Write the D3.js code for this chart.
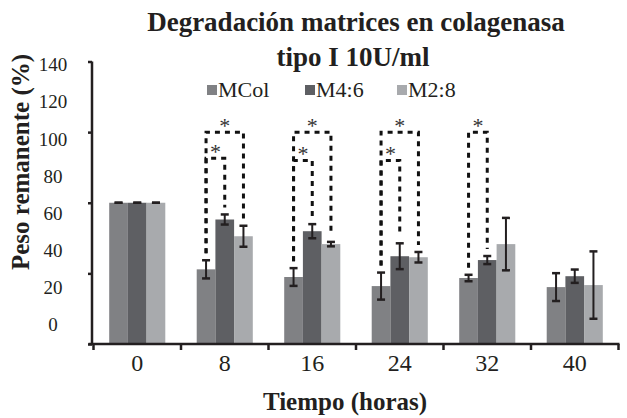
<!DOCTYPE html>
<html>
<head>
<meta charset="utf-8">
<script src="https://cdn.jsdelivr.net/npm/d3@7"></script>
<style>
  body { margin: 0; background: #fff; }
  text { font-family: "Liberation Serif", "Times New Roman", serif; fill: #231f20; }
</style>
</head>
<body>
<div id="chart"></div>
<script>
// data (y domain 0-140 matches the tick marks)
const times = ['0', '8', '16', '24', '32', '40'];
const series = ['MCol', 'M4:6', 'M2:8'];
const mcol = [70, 37, 33.2, 28.7, 32.7, 28.2];
const mcolErr = [0, 4.5, 4.4, 6.7, 1.6, 6.9];
const m46 = [70, 61.7, 55.9, 43.5, 41.6, 33.6];
const m46Err = [0, 2.5, 3.5, 6.4, 2, 3.3];
const m28 = [70, 53.4, 49.5, 43, 49.5, 29.2];
const m28Err = [0, 5.2, 1.1, 2.6, 13, 16.7];
const yTicks = [0, 35, 70, 105, 140];
const yTickLabels = [0, 20, 40, 60, 80, 100, 120, 140];
// significance brackets: time, from series, to series, level (% units)
const brackets = [
    {time: '8', a: 'MCol', b: 'M4:6', level: 92},
    {time: '8', a: 'MCol', b: 'M2:8', level: 105},
    {time: '16', a: 'MCol', b: 'M4:6', level: 91},
    {time: '16', a: 'MCol', b: 'M2:8', level: 105},
    {time: '24', a: 'MCol', b: 'M4:6', level: 91},
    {time: '24', a: 'MCol', b: 'M2:8', level: 105},
    {time: '32', a: 'MCol', b: 'M4:6', level: 105}
];

const colors = {'MCol': '#808184', 'M4:6': '#5e5f63', 'M2:8': '#a8aaad'};
const values = {'MCol': mcol, 'M4:6': m46, 'M2:8': m28};
const errors = {'MCol': mcolErr, 'M4:6': m46Err, 'M2:8': m28Err};

const width = 627;
const height = 418;
const dark = '#231f20';

const svg = d3.select('#chart').append('svg')
    .attr('width', width)
    .attr('height', height);

const x0 = d3.scaleBand().domain(times).range([93.5, 618.5]);
const x1 = d3.scaleBand().domain(series).range([0, x0.bandwidth()]).paddingOuter(0.84);
const y = d3.scaleLinear().domain([0, 140]).range([344, 61.5]);
// the printed labels sit on their own spacing, not on the tick marks
const yLab = d3.scaleLinear().domain([0, 140]).range([325, 65]);

const rows = [];
times.forEach((t, i) => {
    series.forEach(s => {
        rows.push({time: t, series: s, value: values[s][i], err: errors[s][i]});
    });
});

// bars
svg.append('g').selectAll('rect')
    .data(rows)
    .enter().append('rect')
    .attr('x', d => x0(d.time) + x1(d.series))
    .attr('y', d => y(d.value))
    .attr('width', x1.bandwidth())
    .attr('height', d => y(0) - y(d.value))
    .attr('fill', d => colors[d.series]);

// error bars
const eb = svg.append('g').attr('stroke', dark).attr('stroke-width', 2);
rows.forEach(d => {
    const cx = x0(d.time) + x1(d.series) + x1.bandwidth() / 2;
    const top = y(d.value + d.err);
    const bot = y(d.value - d.err);
    if (d.err > 0) {
        eb.append('line').attr('x1', cx).attr('x2', cx).attr('y1', top).attr('y2', bot);
    }
    eb.append('line').attr('x1', cx - 4).attr('x2', cx + 4).attr('y1', top).attr('y2', top).attr('stroke-width', 2.5);
    eb.append('line').attr('x1', cx - 4).attr('x2', cx + 4).attr('y1', bot).attr('y2', bot).attr('stroke-width', 2.5);
});

// significance brackets
function barCenter(t, s) {
    return x0(t) + x1(s) + x1.bandwidth() / 2;
}
function legBottom(t, s) {
    const i = times.indexOf(t);
    return y(values[s][i] + errors[s][i]) - 7;
}
const br = svg.append('g');
brackets.forEach(b => {
    const xa = barCenter(b.time, b.a);
    const xb = barCenter(b.time, b.b);
    const ly = y(b.level);
    br.append('path')
        .attr('d', `M${xa},${legBottom(b.time, b.a)}V${ly}H${xb}V${legBottom(b.time, b.b)}`)
        .attr('fill', 'none')
        .attr('stroke', '#111')
        .attr('stroke-width', 3)
        .attr('stroke-dasharray', '5,5');
    br.append('text')
        .attr('x', (xa + xb) / 2)
        .attr('y', ly + 1)
        .attr('text-anchor', 'middle')
        .style('font-size', '22px')
        .style('fill', '#333')
        .text('*');
});

// y axis: line + tick marks
const yAxis = svg.append('g')
    .attr('transform', `translate(${x0.range()[0] - 1.5},0)`)
    .call(d3.axisLeft(y).tickValues(yTicks).tickSize(4).tickFormat(''));
yAxis.select('.domain').attr('stroke', dark).attr('stroke-width', 2.5).attr('d', `M0,${y(140)}V${y(0)}`);
yAxis.selectAll('.tick line').attr('stroke', dark).attr('stroke-width', 2.5);

svg.append('g').selectAll('text')
    .data(yTickLabels)
    .enter().append('text')
    .attr('x', 53)
    .attr('y', d => yLab(d))
    .attr('dy', '0.33em')
    .attr('text-anchor', 'middle')
    .style('font-size', '19px')
    .text(d => d);

// x axis: line, ticks between groups, labels
const xAxis = svg.append('g').attr('transform', `translate(0,${y(0)})`);
xAxis.append('line')
    .attr('x1', x0.range()[0] - 5).attr('x2', x0.range()[1] + 1)
    .attr('stroke', dark).attr('stroke-width', 2.5);
xAxis.selectAll('.xt')
    .data(times.map(t => x0(t)).concat([x0.range()[1]]))
    .enter().append('line')
    .attr('x1', d => d).attr('x2', d => d)
    .attr('y1', 0).attr('y2', 6)
    .attr('stroke', dark).attr('stroke-width', 2.5);
xAxis.selectAll('.xl')
    .data(times)
    .enter().append('text')
    .attr('x', d => x0(d) + x0.bandwidth() / 2)
    .attr('y', 27)
    .attr('text-anchor', 'middle')
    .style('font-size', '24px')
    .text(d => d);

// titles
svg.append('text')
    .attr('x', 356).attr('y', 31)
    .attr('text-anchor', 'middle')
    .style('font-size', '27px').style('font-weight', 'bold')
    .text('Degradación matrices en colagenasa');
svg.append('text')
    .attr('x', 353).attr('y', 66)
    .attr('text-anchor', 'middle')
    .style('font-size', '27px').style('font-weight', 'bold')
    .text('tipo I 10U/ml');
svg.append('text')
    .attr('x', 345).attr('y', 410)
    .attr('text-anchor', 'middle')
    .style('font-size', '25px').style('font-weight', 'bold')
    .text('Tiempo (horas)');
svg.append('text')
    .attr('transform', 'translate(29,162) rotate(-90)')
    .attr('text-anchor', 'middle')
    .style('font-size', '25px').style('font-weight', 'bold')
    .text('Peso remanente (%)');

// legend
const legendX = [207, 305, 397];
const legend = svg.append('g').selectAll('g')
    .data(series)
    .enter().append('g')
    .attr('transform', (d, i) => `translate(${legendX[i]},85)`);
legend.append('rect')
    .attr('width', 10).attr('height', 10)
    .attr('fill', d => colors[d]);
legend.append('text')
    .attr('x', 11).attr('y', 11.5)
    .style('font-size', '22px')
    .text(d => d);
</script>
</body>
</html>
